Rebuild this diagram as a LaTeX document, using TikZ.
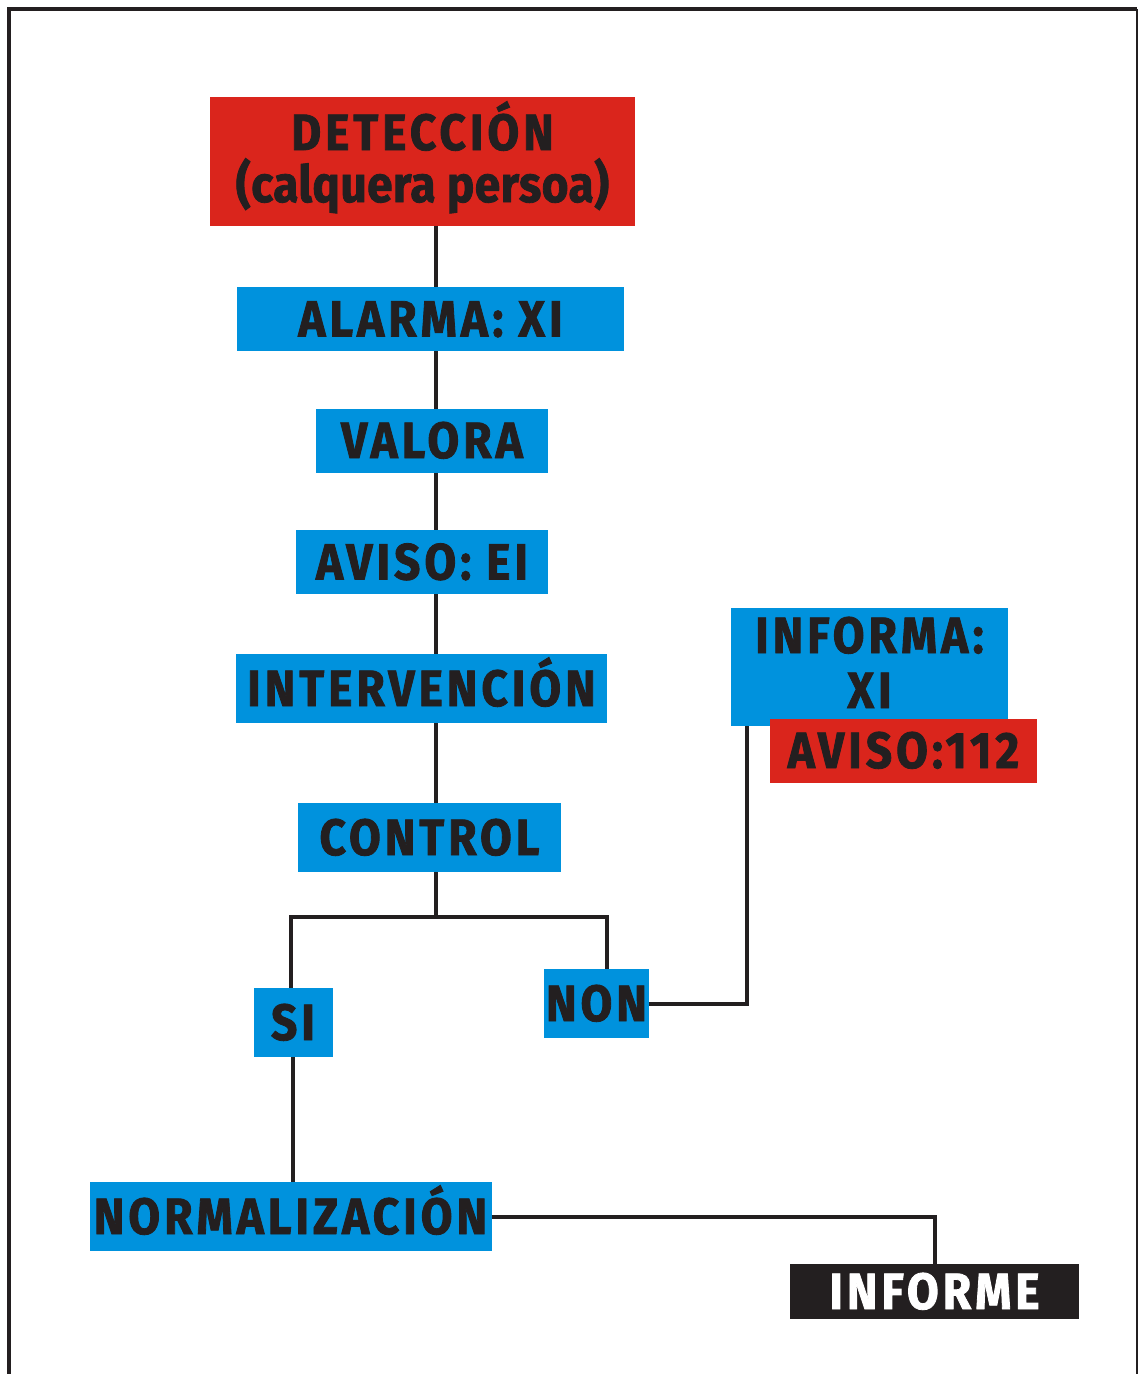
\documentclass[tikz,border=0pt]{standalone}
\usepackage{fontspec}
\newfontfamily\labfont{Fira Sans}[FakeStretch=0.9,LetterSpace=8,FakeBold=1.6]
\definecolor{cblue}{RGB}{0,146,221}
\definecolor{cred}{RGB}{218,37,28}
\definecolor{cink}{RGB}{35,31,32}
\tikzset{
  box/.style={inner sep=0pt, outer sep=0pt, text=cink, align=center,
    font=\labfont\bfseries\fontsize{51}{52}\selectfont,
    text height=35pt, text depth=0pt},
  bluebox/.style={box, fill=cblue},
  redbox/.style={box, fill=cred},
  blackbox/.style={box, fill=cink, text=white},
  conn/.style={draw=cink, line width=4pt},
  frame/.style={draw=cink}
}
\begin{document}
\begin{tikzpicture}[x=1pt,y=-1pt]
\useasboundingbox (0,0) rectangle (1139,1374);
\fill[white] (0,0) rectangle (1139,1374);
% frame (open at bottom)
\draw[frame, line width=4.5pt] (9,1374) -- (9,9) -- (1137,9);
\draw[frame, line width=2.5pt] (1137,9) -- (1137,1374);

% nodes
\node[redbox, minimum width=425, minimum height=129, text height=87pt, text depth=5pt] (det) at (422.5,161)
  {DETECCIÓN\\{\addfontfeature{LetterSpace=1}(calquera persoa)}};
\node[bluebox, minimum width=387, minimum height=64] (alarma) at (430.5,319) {ALARMA: XI};
\node[bluebox, minimum width=232, minimum height=64] (valora) at (432,440.5) {VALORA};
\node[bluebox, minimum width=252, minimum height=64] (aviso) at (422,562) {AVISO: EI};
\node[bluebox, minimum width=371, minimum height=69] (interv) at (421.5,688.5) {INTERVENCIÓN};
\node[bluebox, minimum width=263, minimum height=69] (control) at (429.5,837.5) {CONTROL};
\node[bluebox, minimum width=79, minimum height=69] (si) at (293,1022.5) {SI};
\node[bluebox, minimum width=105, minimum height=69] (non) at (596.5,1003.5) {NON};
\node[bluebox, minimum width=277, minimum height=118, text height=90pt, text depth=7pt,
  font=\labfont\bfseries\fontsize{51}{55}\selectfont] (informa) at (869.5,666.5) {INFORMA:\\XI};
\node[redbox, minimum width=267, minimum height=64] (aviso112) at (903.5,750.5) {AVISO:112};
\node[bluebox, minimum width=402, minimum height=69] (normal) at (290.5,1216.5) {NORMALIZACIÓN};
\node[blackbox, minimum width=289, minimum height=55] (informe) at (934.5,1291.5) {INFORME};

% helper coordinates
\coordinate (trunk) at (436,0);
\coordinate (split) at (436,917);
\coordinate (jl) at (291,917);
\coordinate (jr) at (607,917);
\coordinate (ci) at (747,1003.5);

% connectors
\draw[conn] (det.south -| trunk) -- (alarma.north -| trunk);
\draw[conn] (alarma.south -| trunk) -- (valora.north -| trunk);
\draw[conn] (valora.south -| trunk) -- (aviso.north -| trunk);
\draw[conn] (aviso.south -| trunk) -- (interv.north -| trunk);
\draw[conn] (interv.south -| trunk) -- (control.north -| trunk);
\draw[conn] (control.south -| trunk) -- (split);
\draw[conn] (si.north -| jl) -- (jl) -- (jr) -- (non.north -| jr);
\draw[conn] (non.east) -- (ci) -- (informa.south -| ci);
\draw[conn] (si.south) -- (normal.north -| si.south);
\draw[conn] (normal.east) -- (normal.east -| informe.north) -- (informe.north);
\end{tikzpicture}
\end{document}
